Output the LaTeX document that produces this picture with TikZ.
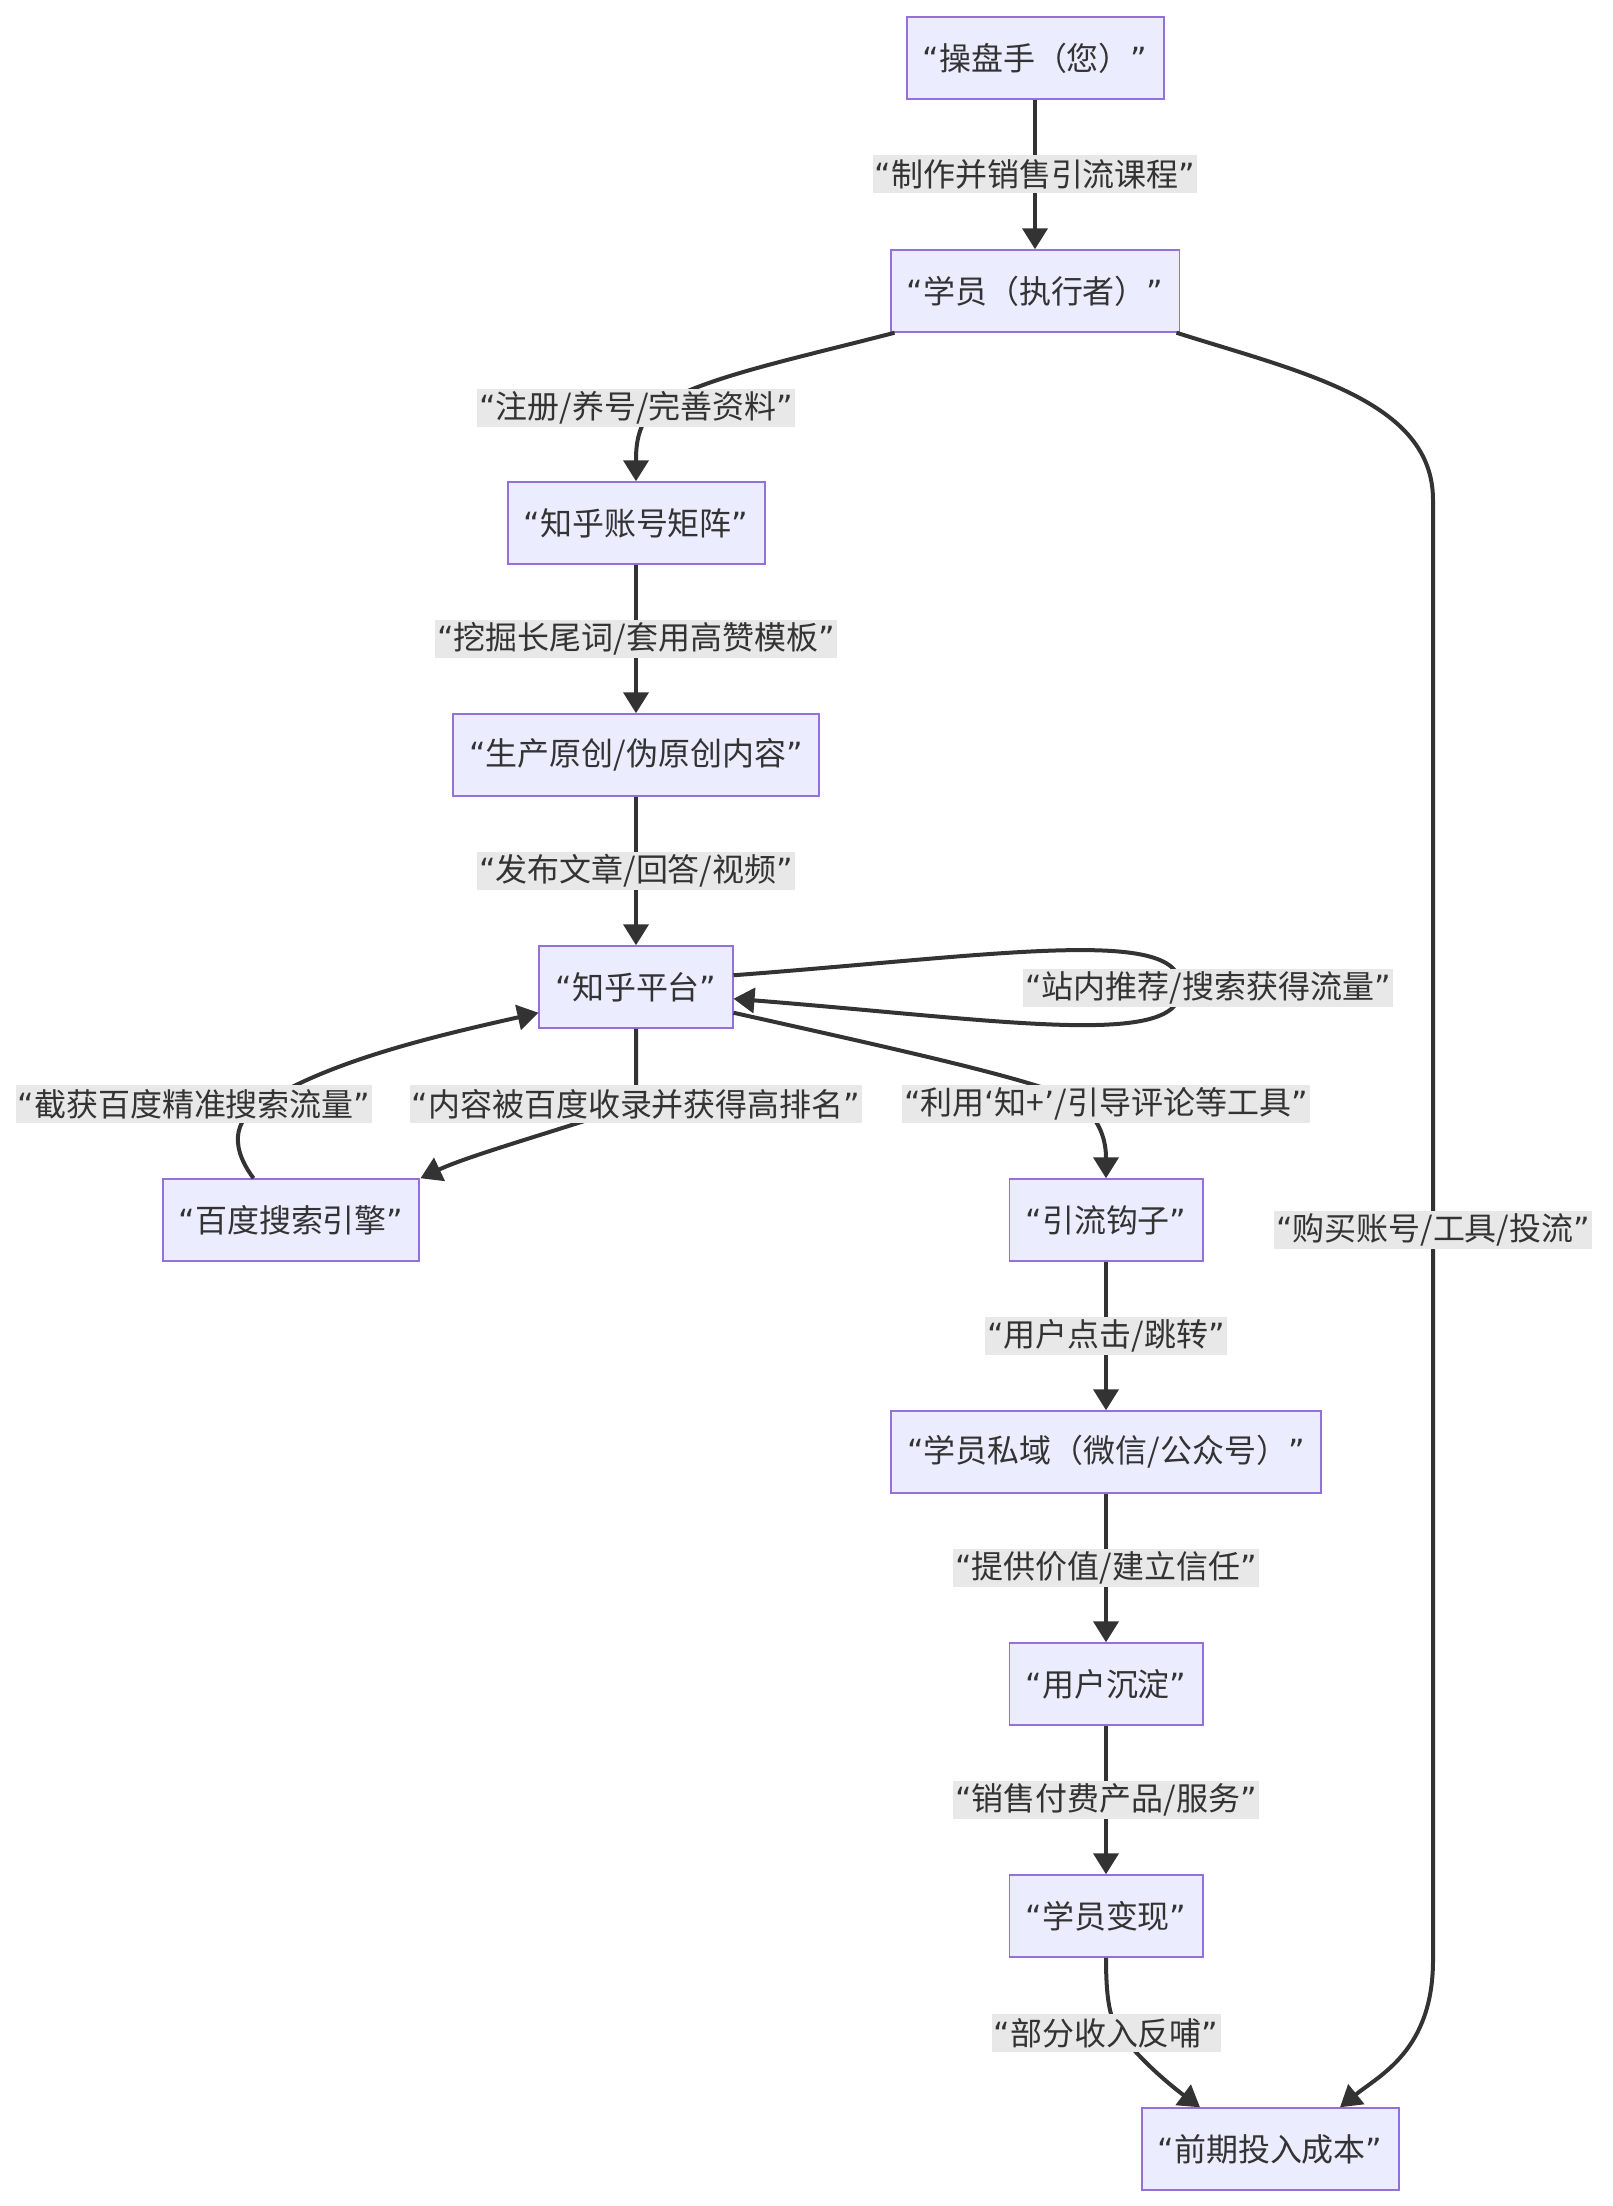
\documentclass[tikz,border=0pt]{standalone}
\usepackage{fontspec}
\setmainfont{Noto Sans CJK SC}
\newfontfamily\quotefont{DejaVu Sans}
\usepackage{xcolor}
\usepackage{tikz}
\usetikzlibrary{arrows.meta}
\usetikzlibrary{calc}

% curly quotes are set in a Latin font (the CJK ones are full width)
\XeTeXinterchartokenstate=1
\newXeTeXintercharclass\quoteclass
\XeTeXcharclass`“=\quoteclass
\XeTeXcharclass`”=\quoteclass
\XeTeXcharclass`‘=\quoteclass
\XeTeXcharclass`’=\quoteclass
\XeTeXinterchartoks 0 \quoteclass = {\quotefont}
\XeTeXinterchartoks 1 \quoteclass = {\quotefont}
\XeTeXinterchartoks 2 \quoteclass = {\quotefont}
\XeTeXinterchartoks 3 \quoteclass = {\quotefont}
\XeTeXinterchartoks 4095 \quoteclass = {\quotefont}
\XeTeXinterchartoks \quoteclass 0 = {\normalfont}
\XeTeXinterchartoks \quoteclass 1 = {\normalfont}
\XeTeXinterchartoks \quoteclass 2 = {\normalfont}
\XeTeXinterchartoks \quoteclass 3 = {\normalfont}

\definecolor{boxfill}{HTML}{ECECFF}
\definecolor{boxline}{HTML}{9370DB}
\definecolor{edgecol}{HTML}{333333}
\definecolor{textcol}{HTML}{333333}
\definecolor{labelbg}{HTML}{E8E8E8}

\begin{document}
\begin{tikzpicture}[
    x=0.02cm, y=-0.02cm,
    every node/.style={rectangle, draw=boxline, fill=boxfill, line width=0.04cm,
      text=textcol, font=\fontsize{18.2}{22}\selectfont,
      minimum height=1.63cm, inner xsep=0.32cm},
    edge label/.style={draw=none, fill=labelbg, minimum height=0.76cm,
      inner xsep=0.04cm, inner ysep=0pt},
    link/.style={draw=edgecol, line width=0.08cm, -{Triangle[length=0.42cm,width=0.5cm]}}
  ]
  \useasboundingbox (0,0) rectangle (1612,2206);

  % Nodes
  \node (op)   at (1035,58)   {“操盘手（您）”};
  \node (stu)  at (1035,291)  {“学员（执行者）”};
  \node (mat)  at (636,523)   {“知乎账号矩阵”};
  \node (prod) at (636,755)   {“生产原创/伪原创内容”};
  \node (zh)   at (636,987)   {“知乎平台”};
  \node (bd)   at (291,1220)  {“百度搜索引擎”};
  \node (hook) at (1106,1220) {“引流钩子”};
  \node (priv) at (1106,1452) {“学员私域（微信/公众号）”};
  \node (sett) at (1106,1684) {“用户沉淀”};
  \node (earn) at (1106,1916) {“学员变现”};
  \node (cost) at (1270,2149) {“前期投入成本”};

  % Edges with labels (grey boxes on the line)
  \draw[link] (op) -- node[edge label] {“制作并销售引流课程”} (stu);
  \draw[link] ($(stu.south west)+(5,0)$) .. controls (790,360) and (700,378) .. (655,408)
    node[edge label, xshift=-0.38cm] {“注册/养号/完善资料”}
    .. controls (636,425) and (636,450) .. (mat.north);
  \draw[link] (mat) -- node[edge label] {“挖掘长尾词/套用高赞模板”} (prod);
  \draw[link] (prod) -- node[edge label] {“发布文章/回答/视频”} (zh);

  % self loop on the platform
  \draw[link] ($(zh.north east)+(0,30)$) .. controls (1000,955) and (1185,925) .. (1180,988)
    node[edge label, xshift=0.56cm] {“站内推荐/搜索获得流量”}
    .. controls (1185,1050) and (1000,1020) .. ($(zh.south east)+(0,-30)$);

  % platform <-> baidu
  \draw[link] (zh.south) .. controls (636,1070) and (636,1085) .. (636,1104)
    node[edge label] {“内容被百度收录并获得高排名”}
    .. controls (560,1130) and (470,1155) .. (bd.north east);
  \draw[link] ($(bd.north west)+(92,0)$) .. controls (225,1140) and (240,1115) .. (262,1104)
    node[edge label, xshift=-1.36cm] {“截获百度精准搜索流量”}
    .. controls (330,1060) and (440,1035) .. ($(zh.south west)+(0,-16)$);

  % platform -> hook
  \draw[link] ($(zh.south east)+(0,-16)$) .. controls (900,1050) and (1060,1085) .. (1080,1104)
    node[edge label, xshift=0.52cm] {“利用‘知+’/引导评论等工具”}
    .. controls (1100,1120) and (1106,1140) .. (hook.north);

  \draw[link] (hook) -- node[edge label] {“用户点击/跳转”} (priv);
  \draw[link] (priv) -- node[edge label] {“提供价值/建立信任”} (sett);
  \draw[link] (sett) -- node[edge label] {“销售付费产品/服务”} (earn);
  \draw[link] (earn.south) .. controls (1106,2000) and (1110,2020) .. (1120,2033)
    node[edge label, xshift=-0.28cm] {“部分收入反哺”}
    .. controls (1140,2060) and (1170,2085) .. ($(cost.north)+(-70,0)$);

  % long edge on the right
  \draw[link] ($(stu.south east)+(-4,0)$) .. controls (1300,372) and (1433,400) .. (1433,500)
    -- node[edge label] {“购买账号/工具/投流”} (1433,1960)
    .. controls (1433,2050) and (1380,2075) .. ($(cost.north)+(70,0)$);

\end{tikzpicture}
\end{document}
